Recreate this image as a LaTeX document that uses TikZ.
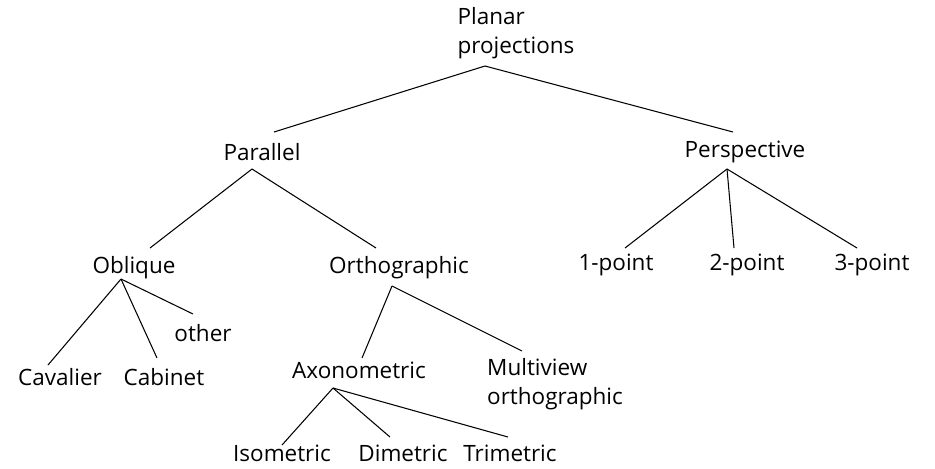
\documentclass[tikz,border=0pt]{standalone}
\usepackage{fontspec}
\setmainfont{Open Sans}
\usetikzlibrary{positioning,calc}

\begin{document}
\begin{tikzpicture}[
  x=0.02cm, y=-0.02cm,
  cls/.style={inner sep=0pt, font=\fontsize{12.8}{16.5}\selectfont, align=left},
  link/.style={draw=black, line width=0.6pt}
]
\useasboundingbox (0,0) rectangle (935,468);

% Classes
\node[cls] (planar) at (516,33) {Planar\\projections};
\node[cls] (parallel) at (262,152) {Parallel};
\node[cls] (persp) at (745,152) {Perspective};
\node[cls] (onept) at (616,265) {1-point};
\node[cls] (twopt) at (747,265) {2-point};
\node[cls] (threept) at (872,265) {3-point};
\node[cls] (oblique) at (134,268) {Oblique};
\node[cls] (ortho) at (399,268) {Orthographic};
\node[cls] (other) at (203,333) {other};
\node[cls] (cavalier) at (60,377) {Cavalier};
\node[cls] (cabinet) at (164,377) {Cabinet};
\node[cls] (axono) at (359,370) {Axonometric};
\node[cls] (multi) at (555,384) {Multiview\\orthographic};
\node[cls] (iso) at (282,453) {Isometric};
\node[cls] (dim) at (403,453) {Dimetric};
\node[cls] (tri) at (510,453) {Trimetric};

% Connect the classes
\draw[link] ($(planar)+(-31,33)$) -- ($(parallel)+(12,-20)$);
\draw[link] ($(planar)+(-31,33)$) -- ($(persp)+(-12,-20)$);
\draw[link] ($(parallel)+(-10,17)$) -- ($(oblique)+(16,-20)$);
\draw[link] ($(parallel)+(-10,17)$) -- ($(ortho)+(-23,-20)$);
\draw[link] ($(persp)+(-18,17)$) -- ($(onept)+(9,-17)$);
\draw[link] ($(persp)+(-18,17)$) -- ($(twopt)+(-13,-17)$);
\draw[link] ($(persp)+(-18,17)$) -- ($(threept)+(-15,-17)$);
\draw[link] ($(oblique)+(-13,11)$) -- ($(cavalier)+(-12,-12)$);
\draw[link] ($(oblique)+(-13,11)$) -- ($(cabinet)+(-7,-19)$);
\draw[link] ($(oblique)+(-13,11)$) -- ($(other)+(-10,-19)$);
\draw[link] ($(ortho)+(-7,18)$) -- ($(axono)+(3,-12)$);
\draw[link] ($(ortho)+(-7,18)$) -- ($(multi)+(-33,-33)$);
\draw[link] ($(axono)+(-26,18)$) -- ($(iso)+(0,-8)$);
\draw[link] ($(axono)+(-26,18)$) -- ($(dim)+(-13,-16)$);
\draw[link] ($(axono)+(-26,18)$) -- ($(tri)+(-2,-16)$);

\end{tikzpicture}
\end{document}
